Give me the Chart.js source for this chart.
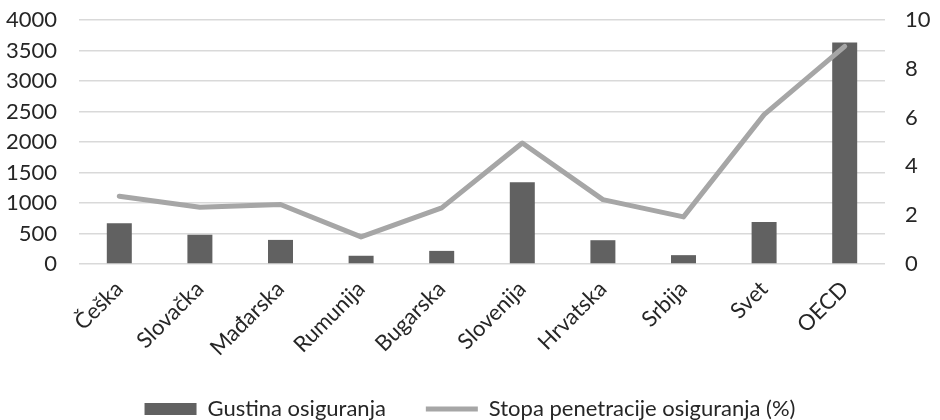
<!DOCTYPE html>
<html>
<head>
<meta charset="utf-8">
<script src="https://cdn.jsdelivr.net/npm/chart.js@4/dist/chart.umd.min.js"></script>
<style>
  html, body { margin: 0; padding: 0; background: #ffffff; }
  #wrap { width: 940px; height: 420px; }
</style>
</head>
<body>
<div id="wrap"><canvas id="chart" width="940" height="420"></canvas></div>
<script>
// Countries / groups on the category axis
const countries = ['Češka', 'Slovačka', 'Mađarska', 'Rumunija', 'Bugarska', 'Slovenija', 'Hrvatska', 'Srbija', 'Svet', 'OECD'];
// Insurance density (left axis)
const density = [670, 480, 395, 135, 215, 1340, 390, 145, 690, 3630];
// Insurance penetration rate in % (right axis)
const penetration = [2.78, 2.33, 2.44, 1.11, 2.30, 4.96, 2.64, 1.93, 6.12, 8.92];
// Axis ranges
const densityTicks = { min: 0, max: 4000, step: 500 };
const penetrationTicks = { min: 0, max: 10, step: 2 };
const seriesNames = ['Gustina osiguranja', 'Stopa penetracije osiguranja (%)'];

const textColor = '#262626';
const baseFont = { family: 'Lato, "Open Sans", sans-serif', size: 22 };
const noTickColor = 'rgba(0,0,0,0)';

new Chart(document.getElementById('chart'), {
  data: {
    labels: countries,
    datasets: [
      {
        type: 'bar',
        label: seriesNames[0],
        data: density,
        yAxisID: 'y',
        backgroundColor: '#616161',
        borderWidth: 0,
        categoryPercentage: 1,
        barPercentage: 0.31,
        pointStyle: 'rect',
        order: 1
      },
      {
        type: 'line',
        label: seriesNames[1],
        data: penetration,
        yAxisID: 'y1',
        borderColor: '#a6a6a6',
        backgroundColor: '#a6a6a6',
        borderWidth: 5,
        borderCapStyle: 'round',
        borderJoinStyle: 'round',
        pointRadius: 0,
        pointHoverRadius: 0,
        pointStyle: 'line',
        tension: 0,
        order: 0
      }
    ]
  },
  options: {
    responsive: false,
    animation: false,
    layout: { padding: { top: 20, right: 0, bottom: 0, left: 0 } },
    plugins: {
      tooltip: { enabled: false },
      legend: {
        position: 'bottom',
        maxHeight: 62,
        labels: {
          sort: (a, b) => a.datasetIndex - b.datasetIndex,
          usePointStyle: true,
          pointStyleWidth: 52,
          boxHeight: 12,
          padding: 40,
          color: textColor,
          font: baseFont
        }
      }
    },
    scales: {
      x: {
        grid: { display: false },
        border: { display: false },
        ticks: {
          color: textColor,
          font: baseFont,
          minRotation: 45,
          maxRotation: 45,
          padding: 4
        },
        afterFit: (scale) => { scale.height = 94; }
      },
      y: {
        position: 'left',
        min: densityTicks.min,
        max: densityTicks.max,
        grid: { color: '#d9d9d9', lineWidth: 1.5, drawTicks: true, tickLength: 20, tickColor: noTickColor },
        border: { display: false },
        ticks: {
          stepSize: densityTicks.step,
          autoSkip: false,
          color: textColor,
          font: baseFont,
          padding: 2,
          callback: (v) => String(v)
        },
        afterFit: (scale) => { scale.width = 79; }
      },
      y1: {
        position: 'right',
        min: penetrationTicks.min,
        max: penetrationTicks.max,
        grid: { display: true, drawOnChartArea: false, drawTicks: true, tickLength: 18, tickColor: noTickColor },
        border: { display: false },
        ticks: {
          stepSize: penetrationTicks.step,
          autoSkip: false,
          color: textColor,
          font: baseFont,
          padding: 2,
          callback: (v) => String(v)
        },
        afterFit: (scale) => { scale.width = 55; }
      }
    }
  }
});
</script>
</body>
</html>
